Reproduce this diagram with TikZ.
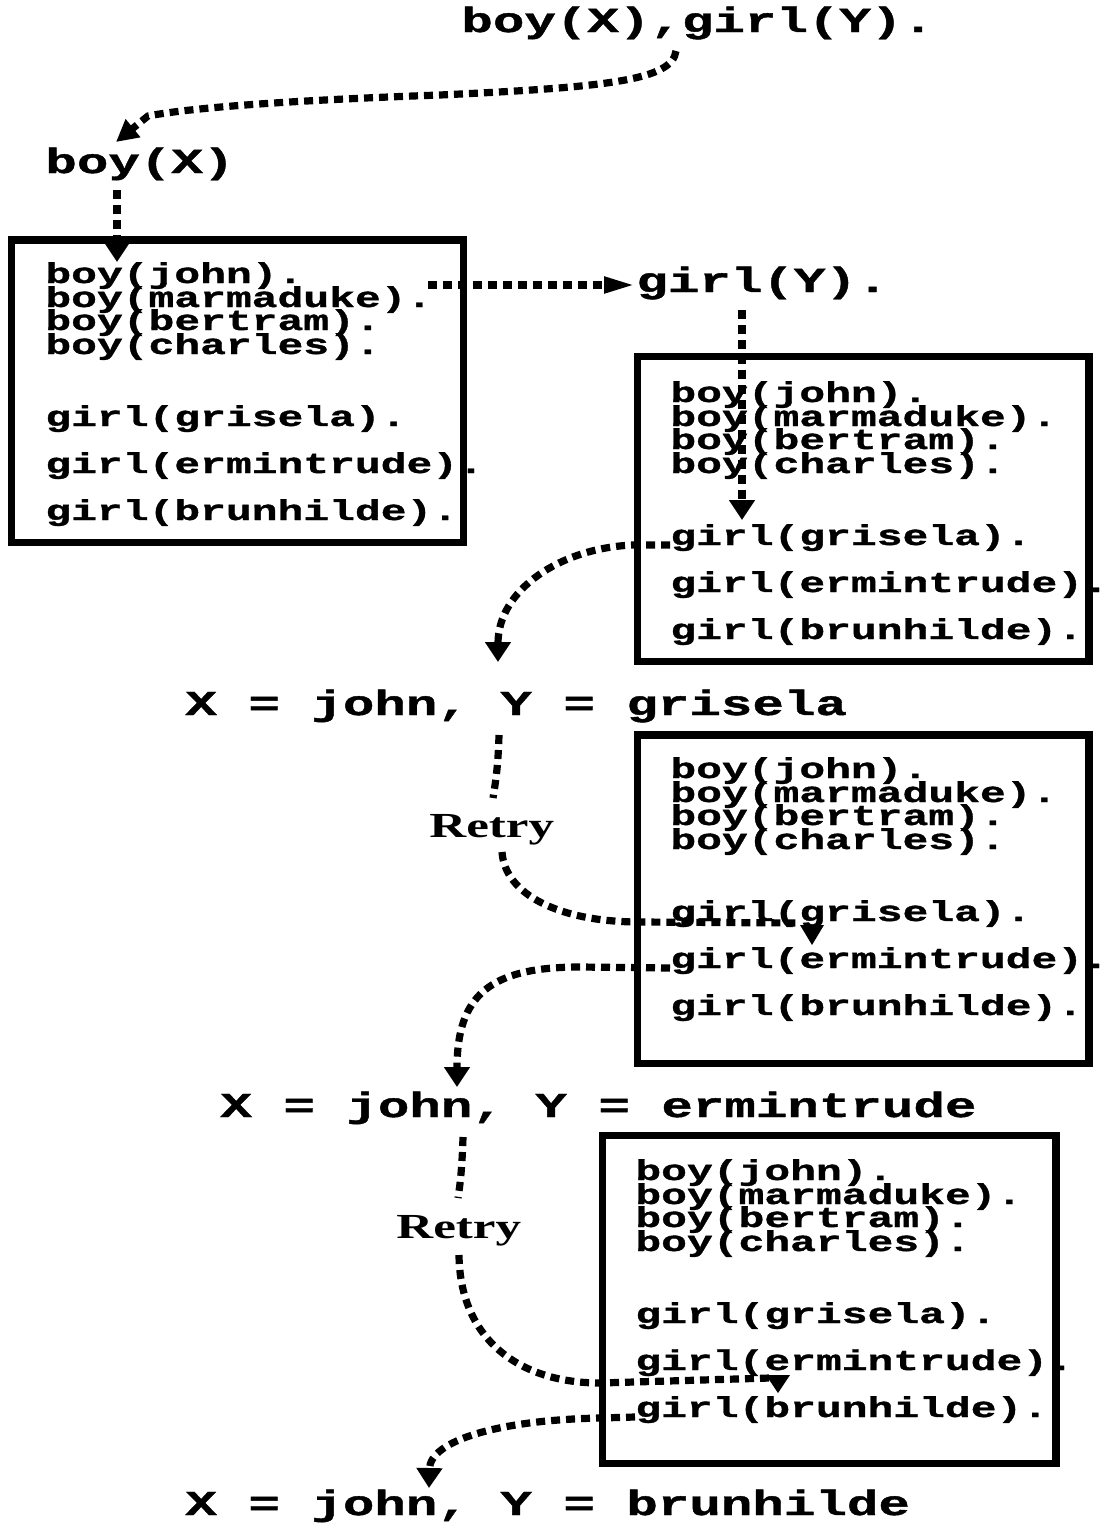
\documentclass[tikz,border=0pt]{standalone}
\usepackage{fontspec}
\newfontfamily\courfont{Liberation Mono}[FakeStretch=1.5,FakeBold=1.2]
\newfontfamily\timesfont{Liberation Serif}[FakeStretch=1.45]
\usetikzlibrary{arrows.meta}
\tikzset{
  query/.style={anchor=base west, inner sep=0pt, font=\courfont\bfseries\fontsize{17.5}{17.5}\selectfont},
  fact/.style={anchor=base west, inner sep=0pt, font=\courfont\bfseries\fontsize{14.33}{14.33}\selectfont},
  retrylabel/.style={anchor=base west, inner sep=0pt, font=\timesfont\bfseries\fontsize{17.6}{17.6}\selectfont},
  dbbox/.style={draw, line width=3.8pt, inner sep=0pt},
  flow/.style={line width=3.6pt, dash pattern=on 4.5pt off 3pt},
  tipv/.style={-{Triangle[length=10pt,width=12.5pt]}},
  tiph/.style={-{Triangle[length=16pt,width=7.5pt]}},
  tipd/.style={-{Triangle[length=11pt,width=11pt]}},
  headfill/.style={fill=black},
}
\newcommand\factlines[3]{%
  \begin{scope}[shift={(#2,#3)}]
    \node[fact] (#1-j) at (0,0)   {boy(john).};
    \node[fact] (#1-m) at (0,24)  {boy(marmaduke).};
    \node[fact] (#1-b) at (0,47)  {boy(bertram).};
    \node[fact] (#1-c) at (0,71)  {boy(charles).};
    \node[fact] (#1-g) at (0,143) {girl(grisela).};
    \node[fact] (#1-e) at (0,190) {girl(ermintrude).};
    \node[fact] (#1-h) at (0,237) {girl(brunhilde).};
  \end{scope}}
\begin{document}
\begin{tikzpicture}[x=0.5pt,y=-0.5pt]
\useasboundingbox (0,0) rectangle (1110,1526);

% boxes
\node[dbbox, minimum width=226pt,    minimum height=151.25pt] (box1) at (237.5,391.25) {};
\node[dbbox, minimum width=225.75pt, minimum height=152.5pt]  (box2) at (863.25,509) {};
\node[dbbox, minimum width=225.75pt, minimum height=164.25pt] (box3) at (863.25,899.25) {};
\node[dbbox, minimum width=226.75pt, minimum height=164pt]    (box4) at (829.25,1299.5) {};

\factlines{b1}{45}{283}
\factlines{b2}{670}{402}
\factlines{b3}{670}{778}
\factlines{b4}{635}{1180}

% queries and answers
\node[query] (q)  at (461,32)  {boy(X),girl(Y).};
\node[query] (bx) at (45,173)  {boy(X)};
\node[query] (gy) at (636,292) {girl(Y).};
\node[query] (r1) at (185,715) {X = john, Y = grisela};
\node[query] (r2) at (220,1117) {X = john, Y = ermintrude};
\node[query] (r3) at (185,1515) {X = john, Y = brunhilde};
\node[retrylabel] (t1) at (429,837)  {Retry};
\node[retrylabel] (t2) at (396,1238) {Retry};

% connector end points
\coordinate (a1s) at (676,51);
\coordinate (a1e) at (116,142);
\coordinate (a2s) at (117,190);
\coordinate (a2e) at (117,262);
\coordinate (a3s) at (428,285);
\coordinate (a4s) at (742,310);
\coordinate (a4e) at (742,520);
\coordinate (a5e) at (498,662);
\coordinate (a6s) at (499,735);
\coordinate (a6m) at (493,798);
\coordinate (a6r) at (502,852);
\coordinate (a6e) at (812,945);
\coordinate (a7e) at (457,1087);
\coordinate (a8s) at (463,1137);
\coordinate (a8m) at (458,1198);
\coordinate (a8r) at (459,1255);
\coordinate (a8e) at (778,1393);
\coordinate (a9e) at (429,1488);

% connectors
\draw[flow,tipd] (a1s) .. controls (672,80) and (610,87) .. (440,95)
   .. controls (300,100) and (195,107) .. (148,116) -- (a1e);
\draw[flow,tipv] (a2s) -- (a2e);
\draw[flow,tiph] (a3s) -- (a3s -| gy.west);
\draw[flow,tipv] (a4s) -- (a4e);
\draw[flow,tipv] (b2-g.base west) -- (633,545) .. controls (560,548) and (498,590) .. (a5e);
\draw[flow] (a6s) .. controls (498,770) and (495,785) .. (a6m);
\draw[flow] (a6r) .. controls (505,895) and (560,922) .. (640,922) -- (800,923);
\fill[headfill] (a6e) -- ++(-12,-20) -- ++(24,0) -- cycle;
\draw[flow,tipv] (b3-e.base west) -- (580,967) .. controls (490,967) and (457,995) .. (a7e);
\draw[flow] (a8s) .. controls (462,1170) and (460,1185) .. (a8m);
\draw[flow] (a8r) .. controls (460,1340) and (520,1383) .. (600,1383) -- (770,1378);
\fill[headfill] (a8e) -- ++(-12,-18) -- ++(24,0) -- cycle;
\draw[flow,tipv] (b4-h.base west) -- (600,1418) .. controls (500,1420) and (430,1440) .. (a9e);
\end{tikzpicture}
\end{document}
